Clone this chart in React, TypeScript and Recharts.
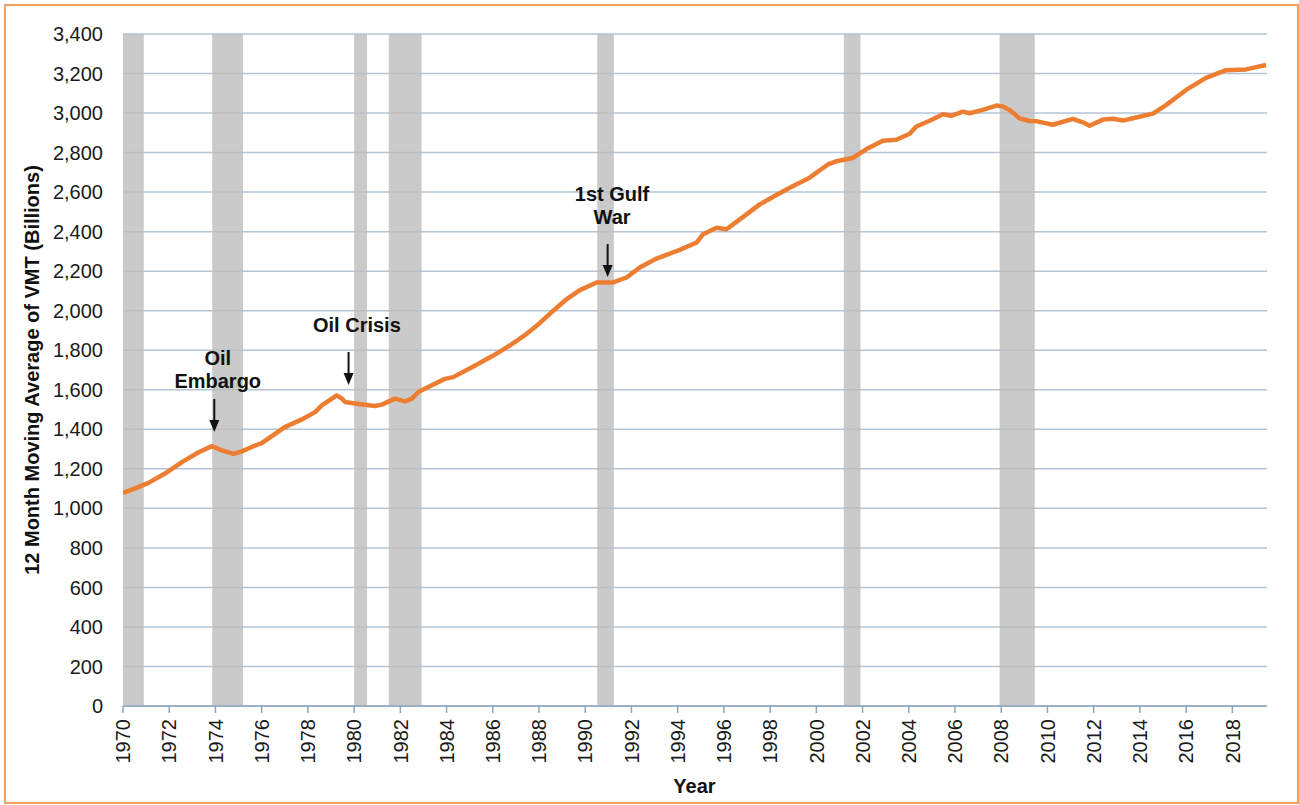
import React from 'react';
import {
  ComposedChart,
  Line,
  XAxis,
  YAxis,
  CartesianGrid,
  ReferenceArea,
  ReferenceDot,
  Label,
} from 'recharts';

// ---- data ----
const years = [
  1970.0, 1970.5, 1971.1, 1971.8, 1972.55, 1973.27, 1973.85, 1974.28, 1974.78, 1975.14,
  1975.72, 1976.0, 1976.58, 1977.0, 1977.74, 1978.31, 1978.6, 1979.25, 1979.47, 1979.61,
  1980.04, 1980.9, 1981.2, 1981.77, 1982.2, 1982.5, 1982.78, 1983.36, 1983.93, 1984.29,
  1985.16, 1986.02, 1986.74, 1987.47, 1988.04, 1988.62, 1989.2, 1989.77, 1990.49, 1991.21,
  1991.79, 1992.36, 1993.09, 1994.09, 1994.82, 1995.1, 1995.68, 1996.11, 1996.69, 1997.55,
  1998.27, 1998.85, 1999.71, 2000.5, 2000.86, 2001.58, 2002.17, 2002.88, 2003.46, 2004.04,
  2004.33, 2004.9, 2005.48, 2005.84, 2006.34, 2006.63, 2007.2, 2007.79, 2008.07, 2008.36,
  2008.79, 2009.22, 2009.51, 2010.23, 2011.1, 2011.53, 2011.82, 2012.4, 2012.83, 2013.26,
  2014.12, 2014.56, 2015.13, 2016.0, 2016.86, 2017.73, 2018.59, 2019.46,
];
const vmtBillions = [
  1078, 1100, 1129, 1175, 1234, 1284, 1315, 1293, 1276, 1288,
  1318, 1330, 1377, 1411, 1450, 1487, 1521, 1572, 1555, 1538,
  1531, 1518, 1525, 1555, 1541, 1555, 1589, 1623, 1655, 1664,
  1718, 1773, 1824, 1883, 1938, 2000, 2059, 2104, 2143, 2143,
  2168, 2219, 2264, 2308, 2345, 2387, 2420, 2412, 2462, 2538,
  2585, 2622, 2673, 2740, 2756, 2773, 2818, 2860, 2865, 2895,
  2932, 2961, 2994, 2986, 3007, 2999, 3016, 3038, 3033, 3016,
  2973, 2960, 2959, 2941, 2971, 2953, 2936, 2967, 2971, 2962,
  2985, 2997, 3040, 3117, 3178, 3217, 3221, 3243,
];
const xTicks = [
  1970, 1972, 1974, 1976, 1978, 1980, 1982, 1984, 1986, 1988, 1990, 1992, 1994,
  1996, 1998, 2000, 2002, 2004, 2006, 2008, 2010, 2012, 2014, 2016, 2018,
];
const yTicks = [0, 200, 400, 600, 800, 1000, 1200, 1400, 1600, 1800, 2000, 2200, 2400, 2600, 2800, 3000, 3200, 3400];
const recessionStarts = [1970.0, 1973.86, 1980.0, 1981.5, 1990.52, 2001.19, 2007.93];
const recessionEnds = [1970.9, 1975.19, 1980.56, 1982.92, 1991.24, 2001.91, 2009.45];
const annotationTexts = [['Oil', 'Embargo'], ['Oil Crisis'], ['1st Gulf', 'War']];
const annotationYears = [1973.95, 1979.76, 1990.97];
const annotationValues = [1386, 1624, 2170];
const annotationLabelYears = [1974.1, 1980.12, 1991.16];
const annotationLabelValues = [1761, 1928, 2590];

const data = years.map((y, i) => ({ year: y, vmt: vmtBillions[i] }));

const FONT = '"Liberation Sans", Arial, Helvetica, sans-serif';
const GRID = '#B3C5D7';
const AXIS = '#8AA6C1';

const fmt = (v: number) => v.toLocaleString('en-US');

const XTick = (props: any) => {
  const { x, y, payload } = props;
  return (
    <text
      transform={`translate(${x},${y + 4}) rotate(-90)`}
      textAnchor="end"
      dy="0.36em"
      fontSize={20}
      fontFamily={FONT}
      fill="#1a1a1a"
    >
      {payload.value}
    </text>
  );
};

const arrowShape = (props: any) => {
  const { cx, cy } = props;
  return (
    <g>
      <line x1={cx} y1={cy - 33} x2={cx} y2={cy - 10} stroke="#111" strokeWidth={2} />
      <polygon points={`${cx - 5},${cy - 12} ${cx + 5},${cy - 12} ${cx},${cy}`} fill="#111" />
    </g>
  );
};

const makeTextShape = (lines: string[]) => (props: any) => {
  const { cx, cy } = props;
  return (
    <g>
      {lines.map((t, i) => (
        <text
          key={i}
          x={cx}
          y={cy + i * 23}
          textAnchor="middle"
          dominantBaseline="central"
          fontSize={20}
          fontWeight="bold"
          fontFamily={FONT}
          fill="#111"
        >
          {t}
        </text>
      ))}
    </g>
  );
};

export default function App() {
  return (
    <div style={{ position: 'absolute', left: 0, top: 0, width: 1299, height: 805, background: '#ffffff' }}>
      <div
        style={{
          position: 'absolute',
          left: 4,
          top: 4,
          width: 1295,
          height: 800,
          boxSizing: 'border-box',
          border: '2px solid #F0A25C',
        }}
      />
      <div style={{ position: 'absolute', left: 0, top: 0 }}>
        <ComposedChart
          width={1299}
          height={805}
          data={data}
          margin={{ top: 34, right: 32, bottom: 39, left: 63 }}
        >
          <CartesianGrid horizontal vertical={false} stroke={GRID} strokeWidth={1.5} />
          {recessionStarts.map((s, i) => (
            <ReferenceArea
              key={'r' + i}
              x1={s}
              x2={recessionEnds[i]}
              y1={0}
              y2={3400}
              fill="#BDBDBD"
              fillOpacity={0.8}
              stroke="none"
              ifOverflow="hidden"
            />
          ))}
          <XAxis
            dataKey="year"
            type="number"
            domain={[1970, 2019.5]}
            ticks={xTicks}
            interval={0}
            allowDataOverflow
            height={60}
            stroke={AXIS}
            strokeWidth={1.5}
            tickSize={7}
            tickMargin={2}
            tick={<XTick />}
          >
            <Label
              content={() => (
                <text
                  x={694.5}
                  y={793}
                  textAnchor="middle"
                  fontSize={20}
                  fontWeight="bold"
                  fontFamily={FONT}
                  fill="#111"
                >
                  Year
                </text>
              )}
            />
          </XAxis>
          <YAxis
            type="number"
            domain={[0, 3400]}
            ticks={yTicks}
            interval={0}
            width={60}
            axisLine={false}
            tickLine={false}
            tickSize={6}
            tickMargin={14}
            tickFormatter={fmt}
            tick={{ fontSize: 20, fontFamily: FONT, fill: '#1a1a1a' }}
          >
            <Label
              content={() => (
                <text
                  transform="translate(39,370) rotate(-90)"
                  textAnchor="middle"
                  fontSize={20}
                  fontWeight="bold"
                  fontFamily={FONT}
                  fill="#111"
                >
                  12 Month Moving Average of VMT (Billions)
                </text>
              )}
            />
          </YAxis>
          <Line
            type="linear"
            dataKey="vmt"
            stroke="#ED7D31"
            strokeWidth={4.5}
            strokeLinejoin="round"
            dot={false}
            isAnimationActive={false}
          />
          {annotationYears.map((yr, i) => (
            <ReferenceDot
              key={'a' + i}
              x={yr}
              y={annotationValues[i]}
              r={1}
              ifOverflow="visible"
              shape={arrowShape}
            />
          ))}
          {annotationLabelYears.map((yr, i) => (
            <ReferenceDot
              key={'t' + i}
              x={yr}
              y={annotationLabelValues[i]}
              r={1}
              ifOverflow="visible"
              shape={makeTextShape(annotationTexts[i])}
            />
          ))}
        </ComposedChart>
      </div>
    </div>
  );
}
